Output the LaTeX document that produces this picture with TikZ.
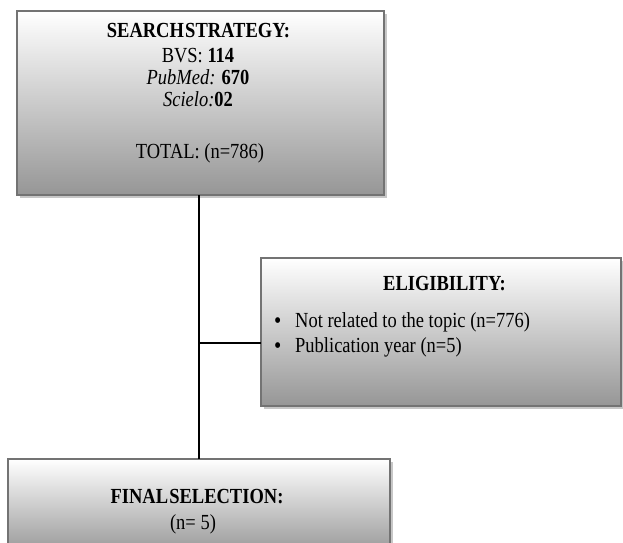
\documentclass[tikz,border=0pt]{standalone}
\usepackage{fontspec}
\setmainfont[FakeStretch=0.86]{Liberation Serif}
\usetikzlibrary{shadows}
\definecolor{boxgray}{RGB}{150,150,150}
\definecolor{edgegray}{RGB}{115,115,115}
\begin{document}
\begin{tikzpicture}[x=1pt,y=-1pt,
  box/.style={draw=edgegray, line width=1.2pt, top color=white, bottom color=boxgray,
    drop shadow={shadow xshift=3pt, shadow yshift=-3pt, opacity=0.22, fill=black},
    inner sep=0pt, outer sep=0pt},
  txt/.style={anchor=base, inner sep=0pt, font=\fontsize{21.5}{24}\selectfont},
  ltxt/.style={anchor=base west, inner sep=0pt, font=\fontsize{21.5}{24}\selectfont},
  conn/.style={line width=2.4pt, black}]
\useasboundingbox (0,0) rectangle (623,542);
\clip (0,0) rectangle (623,542);
% boxes
\node[box, minimum width=367pt, minimum height=184pt] (search) at (200.5,103) {};
\node[box, minimum width=360pt, minimum height=148pt] (elig) at (441,332) {};
\node[box, minimum width=382pt, minimum height=96pt] (final) at (199,507) {};
% connectors
\coordinate (top) at (search.south -| final.north);
\coordinate (j) at (199,343);
\draw[conn] (top) -- (final.north);
\draw[conn] (j) -- (j -| elig.west);
% search strategy text
\node[txt] (s1) at (198.5,37) {\textbf{SEARCH\hspace{0.06em}STRATEGY:}};
\node[txt] (s2) at (198,62) {BVS: \textbf{114}};
\node[txt] (s3) at (198,84) {\textit{PubMed:} \textbf{670}};
\node[txt] (s4) at (198,106) {\textit{Scielo:}\textbf{02}};
\node[txt] (s5) at (200,158) {TOTAL: (n=786)};
% eligibility text
\node[txt] (e1) at (444.5,290) {\textbf{ELIGIBILITY:}};
\node[ltxt] (e2) at (274,327) {\makebox[21pt][l]{\fontsize{24}{24}\selectfont\raisebox{-1pt}{•}}Not related to the topic (n=776)};
\node[ltxt] (e3) at (274,352) {\makebox[21pt][l]{\fontsize{24}{24}\selectfont\raisebox{-1pt}{•}}Publication year (n=5)};
% final selection text
\node[txt] (f1) at (197,503) {\textbf{FINAL\hspace{0.06em}SELECTION:}};
\node[txt] (f2) at (193,529) {(n= 5)};
\end{tikzpicture}
\end{document}
